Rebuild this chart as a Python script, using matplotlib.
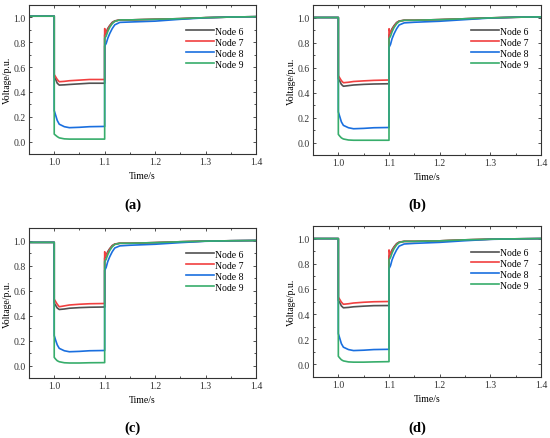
import matplotlib.pyplot as plt
from matplotlib.ticker import MultipleLocator

plt.rcParams['font.family'] = ['Liberation Serif', 'DejaVu Serif']

# time points (s), vertical steps at 1.0 and 1.1 are repeated points
time = [0.95, 1.0, 1.0, 1.003, 1.006, 1.01, 1.02, 1.03, 1.05, 1.07, 1.1,
        1.1, 1.103, 1.106, 1.11, 1.115, 1.12, 1.13, 1.15, 1.2, 1.25, 1.3,
        1.35, 1.4]

# panel (a)
node6_a = [1.01, 1.01, 0.52, 0.50, 0.47, 0.455, 0.457, 0.46, 0.465, 0.47,
           0.47, 0.86, 0.88, 0.91, 0.935, 0.96, 0.972, 0.98, 0.98, 0.985,
           0.99, 0.998, 1.003, 1.006]
node7_a = [1.01, 1.01, 0.54, 0.52, 0.50, 0.482, 0.485, 0.49, 0.495, 0.50,
           0.50, 0.91, 0.875, 0.90, 0.93, 0.955, 0.97, 0.98, 0.98, 0.985,
           0.99, 0.998, 1.003, 1.006]
node8_a = [1.01, 1.01, 0.25, 0.21, 0.17, 0.14, 0.12, 0.112, 0.115, 0.12,
           0.122, 0.77, 0.79, 0.83, 0.87, 0.91, 0.94, 0.96, 0.963, 0.97,
           0.985, 0.997, 1.003, 1.006]
node9_a = [1.01, 1.01, 0.06, 0.05, 0.04, 0.03, 0.022, 0.02, 0.02, 0.02,
           0.02, 0.83, 0.85, 0.885, 0.92, 0.95, 0.968, 0.98, 0.98, 0.985,
           0.99, 0.998, 1.003, 1.006]

# panel (b)
node6_b = [1.0, 1.0, 0.51, 0.49, 0.465, 0.45, 0.455, 0.46, 0.465, 0.468,
           0.47, 0.86, 0.88, 0.91, 0.935, 0.96, 0.972, 0.978, 0.978, 0.983,
           0.99, 0.997, 1.002, 1.005]
node7_b = [1.0, 1.0, 0.535, 0.515, 0.495, 0.478, 0.482, 0.488, 0.493,
           0.497, 0.50, 0.91, 0.875, 0.90, 0.93, 0.955, 0.97, 0.978, 0.978,
           0.983, 0.99, 0.997, 1.002, 1.005]
node8_b = [1.0, 1.0, 0.245, 0.205, 0.165, 0.137, 0.118, 0.11, 0.113, 0.118,
           0.12, 0.76, 0.785, 0.83, 0.87, 0.91, 0.94, 0.957, 0.962, 0.97,
           0.983, 0.996, 1.002, 1.005]
node9_b = [1.0, 1.0, 0.065, 0.05, 0.037, 0.028, 0.02, 0.018, 0.018, 0.018,
           0.018, 0.83, 0.85, 0.885, 0.92, 0.95, 0.968, 0.978, 0.978, 0.983,
           0.99, 0.997, 1.002, 1.005]

# panel (c)
node6_c = [0.985, 0.985, 0.50, 0.48, 0.46, 0.448, 0.452, 0.458, 0.463,
           0.466, 0.468, 0.86, 0.88, 0.91, 0.935, 0.96, 0.972, 0.978, 0.978,
           0.983, 0.99, 0.995, 0.998, 1.0]
node7_c = [0.985, 0.985, 0.53, 0.51, 0.49, 0.47, 0.477, 0.484, 0.49, 0.494,
           0.496, 0.91, 0.875, 0.90, 0.93, 0.955, 0.97, 0.978, 0.978, 0.983,
           0.99, 0.995, 0.998, 1.0]
node8_c = [0.985, 0.985, 0.24, 0.2, 0.165, 0.137, 0.118, 0.11, 0.113, 0.118,
           0.12, 0.76, 0.785, 0.83, 0.87, 0.91, 0.94, 0.957, 0.962, 0.97,
           0.983, 0.994, 0.998, 1.0]
node9_c = [0.985, 0.985, 0.065, 0.05, 0.038, 0.03, 0.022, 0.02, 0.02, 0.022,
           0.023, 0.83, 0.85, 0.885, 0.92, 0.95, 0.968, 0.978, 0.978, 0.983,
           0.99, 0.995, 0.998, 1.0]

# panel (d)
node6_d = [1.0, 1.0, 0.51, 0.49, 0.465, 0.45, 0.453, 0.458, 0.463, 0.467,
           0.468, 0.86, 0.88, 0.91, 0.935, 0.96, 0.972, 0.978, 0.978, 0.982,
           0.99, 0.995, 0.998, 1.0]
node7_d = [1.0, 1.0, 0.535, 0.515, 0.495, 0.478, 0.482, 0.488, 0.494,
           0.498, 0.50, 0.91, 0.875, 0.90, 0.93, 0.955, 0.97, 0.978, 0.978,
           0.982, 0.99, 0.995, 0.998, 1.0]
node8_d = [1.0, 1.0, 0.245, 0.205, 0.165, 0.137, 0.118, 0.11, 0.113, 0.118,
           0.12, 0.76, 0.785, 0.83, 0.87, 0.91, 0.94, 0.957, 0.962, 0.97,
           0.983, 0.994, 0.998, 1.0]
node9_d = [1.0, 1.0, 0.065, 0.05, 0.037, 0.028, 0.02, 0.018, 0.018, 0.02,
           0.022, 0.83, 0.85, 0.885, 0.92, 0.95, 0.968, 0.978, 0.978, 0.982,
           0.99, 0.995, 0.998, 1.0]

node_labels = ['Node 6', 'Node 7', 'Node 8', 'Node 9']
node_colors = ['#515151', '#F14040', '#1A6FDF', '#37AD6B']
panel_names = ['(a)', '(b)', '(c)', '(d)']

panels = [
    [node6_a, node7_a, node8_a, node9_a],
    [node6_b, node7_b, node8_b, node9_b],
    [node6_c, node7_c, node8_c, node9_c],
    [node6_d, node7_d, node8_d, node9_d],
]

W, H = 550, 439
# axes boxes in pixels: left, top, right, bottom
boxes = [(29, 6, 256, 155), (313, 6, 541, 156),
         (29, 229, 256, 379), (313, 227, 541, 378)]

fig = plt.figure(figsize=(W / 100, H / 100), dpi=100)

for i, series in enumerate(panels):
    l, t, r, b = boxes[i]
    ax = fig.add_axes([l / W, 1 - b / H, (r - l) / W, (b - t) / H])
    for vals, lab, col in zip(series, node_labels, node_colors):
        ax.plot(time, vals, color=col, lw=1.2, label=lab)

    ax.set_xlim(0.95, 1.4)
    ax.set_ylim(-0.1, 1.1)
    ax.xaxis.set_major_locator(MultipleLocator(0.1))
    ax.xaxis.set_minor_locator(MultipleLocator(0.05))
    ax.yaxis.set_major_locator(MultipleLocator(0.2))
    ax.yaxis.set_minor_locator(MultipleLocator(0.1))
    ax.tick_params(which='both', direction='in', top=True, right=True,
                   labelsize=7, width=0.6, colors='#333333', pad=2.5)
    ax.tick_params(which='major', length=2.5)
    ax.tick_params(which='minor', length=1.5)
    for s in ax.spines.values():
        s.set_linewidth(0.8)
        s.set_color('#333333')

    ax.set_xlabel('Time/s', fontsize=7, labelpad=3)
    ax.set_ylabel('Voltage/p.u.', fontsize=7, labelpad=1)
    ax.legend(loc='upper right', bbox_to_anchor=(0.975, 0.9), frameon=False,
              fontsize=7, handlelength=2.8, handletextpad=0.15,
              labelspacing=0.2, borderpad=0.2)

    cx = (l + r) / 2 - 10
    ly = 205 if i < 2 else 428
    fig.text(cx / W, 1 - ly / H, panel_names[i], fontsize=10.5,
             fontweight='bold', ha='center', va='center')

fig.savefig('out.png', dpi=100)
